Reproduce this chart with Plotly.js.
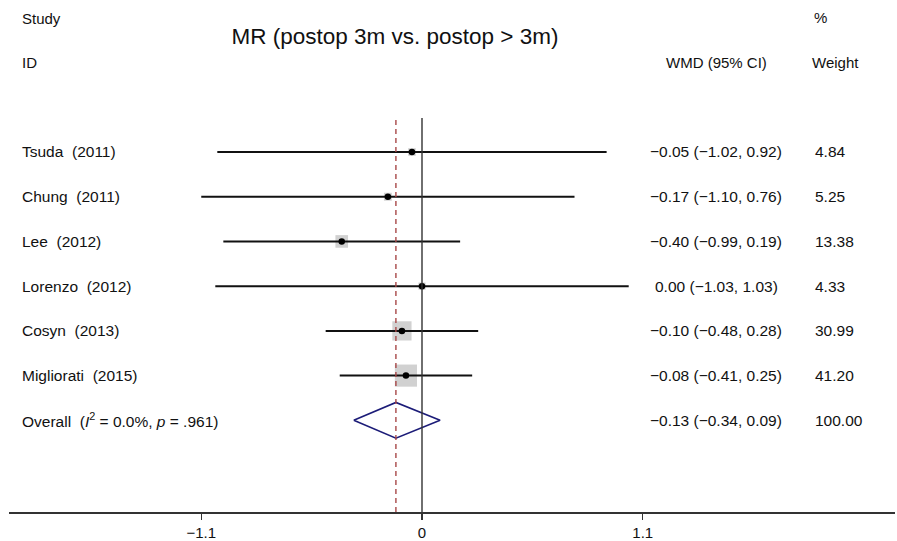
<!DOCTYPE html>
<html>
<head>
<meta charset="utf-8">
<script src="https://cdn.plot.ly/plotly-3.0.1.min.js"></script>
<style>html,body{margin:0;padding:0;background:#fff;}#chart{width:897px;height:541px;}</style>
</head>
<body>
<div id="chart"></div>
<script>
// ---- data ----
const studies = ["Tsuda  (2011)", "Chung  (2011)", "Lee  (2012)", "Lorenzo  (2012)", "Cosyn  (2013)", "Migliorati  (2015)"];
const wmd = [-0.05, -0.17, -0.40, 0.00, -0.10, -0.08];
const lower = [-1.02, -1.10, -0.99, -1.03, -0.48, -0.41];
const upper = [0.92, 0.76, 0.19, 1.03, 0.28, 0.25];
const weights = [4.84, 5.25, 13.38, 4.33, 30.99, 41.20];
const ciText = ["\u22120.05 (\u22121.02, 0.92)", "\u22120.17 (\u22121.10, 0.76)", "\u22120.40 (\u22120.99, 0.19)", "0.00 (\u22121.03, 1.03)", "\u22120.10 (\u22120.48, 0.28)", "\u22120.08 (\u22120.41, 0.25)"];
const weightText = ["4.84", "5.25", "13.38", "4.33", "30.99", "41.20"];
const overallLabel = "Overall  (<i>I</i><sup>2</sup> = 0.0%, <i>p</i> = .961)";
const overallEst = -0.13, overallLo = -0.34, overallHi = 0.09;
const overallCI = "\u22120.13 (\u22120.34, 0.09)";
const overallWeight = "100.00";
const tickVals = [-1.1, 0, 1.1];
const tickText = ["\u22121.1", "0", "1.1"];

// ---- layout helpers ----
const rows = studies.map((s, i) => -i);
const overallRow = -studies.length;
const FONT = "Liberation Sans, Arial, Helvetica, sans-serif";
const txtSize = 15.5;
const diamondHalf = 0.4;

const traces = [
  { // weight squares
    type: "scatter", mode: "markers", x: wmd, y: rows,
    marker: { symbol: "square", color: "#bdbdbd", size: weights.map(w => 3.45 * Math.sqrt(w)), line: { width: 0 } },
    hoverinfo: "skip", showlegend: false
  },
  { // CI lines + point estimates
    type: "scatter", mode: "markers", x: wmd, y: rows,
    error_x: { type: "data", symmetric: false,
      array: upper.map((u, i) => u - wmd[i]),
      arrayminus: lower.map((l, i) => wmd[i] - l),
      color: "#111", thickness: 2, width: 0 },
    marker: { symbol: "circle", color: "#000", size: 6.5 },
    hoverinfo: "skip", showlegend: false
  },
  { // overall diamond
    type: "scatter", mode: "lines",
    x: [overallLo, overallEst, overallHi, overallEst, overallLo],
    y: [overallRow, overallRow + diamondHalf, overallRow, overallRow - diamondHalf, overallRow],
    line: { color: "#1c1c78", width: 1.6 },
    hoverinfo: "skip", showlegend: false
  }
];

const annotations = [];
const xStudy = 0.0124, xCI = 0.798, xW = 0.9075;
const bodyFont = { family: FONT, size: txtSize, color: "#111" };
studies.forEach((s, i) => {
  annotations.push({ text: s, x: xStudy, xref: "paper", y: rows[i], yref: "y", xanchor: "left", yanchor: "middle", showarrow: false, font: bodyFont });
  annotations.push({ text: ciText[i], x: xCI, xref: "paper", y: rows[i], yref: "y", xanchor: "center", yanchor: "middle", showarrow: false, font: bodyFont });
  annotations.push({ text: weightText[i], x: xW, xref: "paper", y: rows[i], yref: "y", xanchor: "left", yanchor: "middle", showarrow: false, font: bodyFont });
});
annotations.push({ text: overallLabel, x: xStudy, xref: "paper", y: overallRow, yref: "y", xanchor: "left", yanchor: "middle", showarrow: false, font: bodyFont });
annotations.push({ text: overallCI, x: xCI, xref: "paper", y: overallRow, yref: "y", xanchor: "center", yanchor: "middle", showarrow: false, font: bodyFont });
annotations.push({ text: overallWeight, x: xW, xref: "paper", y: overallRow, yref: "y", xanchor: "left", yanchor: "middle", showarrow: false, font: bodyFont });
// headers
const hdr = (text, x, y, anchor) => ({ text, x, xref: "paper", y, yref: "paper", xanchor: anchor, yanchor: "middle", showarrow: false, font: { family: FONT, size: 15, color: "#111" } });
annotations.push(hdr("Study", xStudy, 1.252, "left"));
annotations.push(hdr("ID", xStudy, 1.1396, "left"));
annotations.push(hdr("WMD (95% CI)", 0.7985, 1.1396, "center"));
annotations.push(hdr("%", 0.9065, 1.255, "left"));
annotations.push(hdr("Weight", 0.9035, 1.1396, "left"));

const layout = {
  width: 897, height: 541,
  margin: { l: 9, r: 2, t: 118, b: 29 },
  paper_bgcolor: "#fff", plot_bgcolor: "#fff",
  title: { text: "MR (postop 3m vs. postop > 3m)", x: 0.4357, xref: "paper", xanchor: "center", y: 1 - 36 / 541, yanchor: "middle", font: { family: FONT, size: 22.5, color: "#111" } },
  xaxis: {
    range: [-2.058, 2.357], showgrid: false, zeroline: false,
    showline: true, linecolor: "#333", linewidth: 2,
    ticks: "outside", ticklen: 6, tickcolor: "#333", tickwidth: 1.2,
    tickvals: tickVals, ticktext: tickText,
    tickfont: { family: FONT, size: 15, color: "#111" }
  },
  yaxis: { range: [-8.05, 0.76], visible: false, showgrid: false, zeroline: false },
  shapes: [
    { type: "line", xref: "x", yref: "paper", x0: 0, x1: 0, y0: 0, y1: 1, line: { color: "#333", width: 1.4 } },
    { type: "line", xref: "x", yref: "paper", x0: overallEst, x1: overallEst, y0: 0, y1: 1, line: { color: "#a84848", width: 1.4, dash: "5px,4px" } }
  ],
  annotations: annotations,
  showlegend: false
};

Plotly.newPlot("chart", traces, layout, { displayModeBar: false, staticPlot: true });
</script>
</body>
</html>
